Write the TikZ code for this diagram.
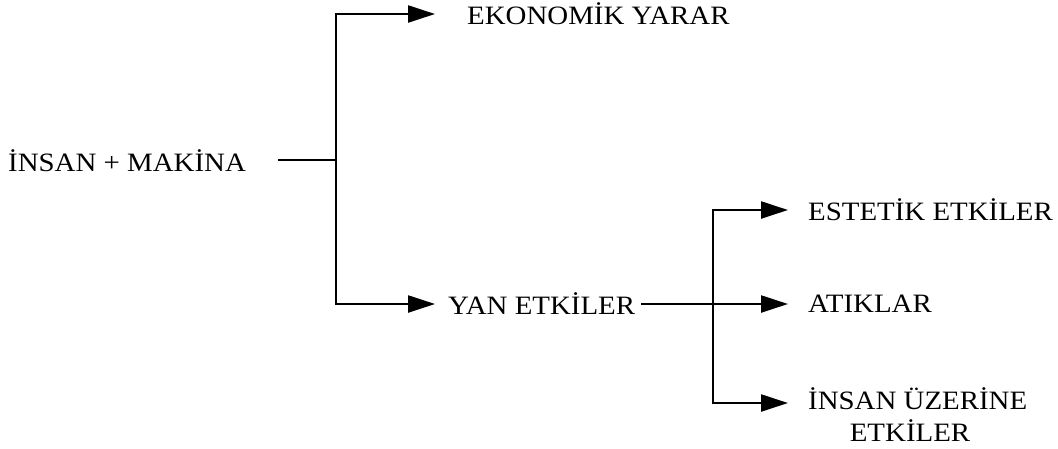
\documentclass[tikz,border=0pt]{standalone}
\usepackage{fontspec}
\setmainfont{Liberation Serif}[FakeStretch=1.09]
\usetikzlibrary{arrows.meta}
\begin{document}
\begin{tikzpicture}[x=1pt,y=-1pt,
  lbl/.style={font=\fontsize{26.5}{30}\selectfont, inner sep=0pt, anchor=west},
  conn/.style={line width=2.3pt, line join=miter},
  arr/.style={conn, -{Triangle[length=27pt,width=17pt]}}]
\useasboundingbox (0,0) rectangle (1058,448);
\node[lbl] (im) at (8,161) {İNSAN + MAKİNA};
\node[lbl] (eko) at (467,14) {EKONOMİK YARAR};
\node[lbl] (yan) at (448,304) {YAN ETKİLER};
\node[lbl] (est) at (808,210) {ESTETİK ETKİLER};
\node[lbl] (ati) at (808,304) {ATIKLAR};
\node[lbl] (ins1) at (808,399) {İNSAN ÜZERİNE};
\node[lbl, anchor=center] (ins2) at (910,431) {ETKİLER};
\coordinate (j1) at (336,160);
\coordinate (j2) at (713,304);
\draw[conn, shorten <=32pt] (im.east |- j1) -- (j1);
\draw[arr, shorten >=32pt] (j1) |- (eko.west);
\draw[arr, shorten >=13pt] (j1) |- (yan.west);
\draw[arr, shorten <=6pt, shorten >=20pt] (yan.east) -- (ati.west);
\draw[arr, shorten >=20pt] (j2) |- (est.west);
\draw[arr, shorten >=20pt] (j2) |- ([yshift=-4pt]ins1.west);
\end{tikzpicture}
\end{document}
